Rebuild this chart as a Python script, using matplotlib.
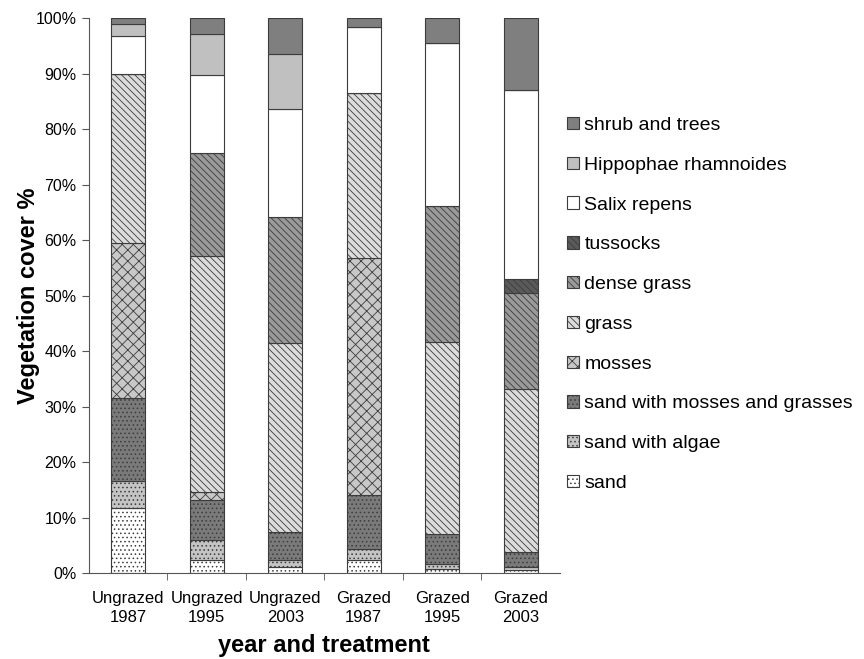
import matplotlib
matplotlib.use("Agg")
import matplotlib.pyplot as plt
import numpy as np

plt.rcParams["font.family"] = ["Liberation Sans", "DejaVu Sans"]
plt.rcParams["hatch.linewidth"] = 0.6

# 类别与数据 (%)
categories = ["Ungrazed\n1987", "Ungrazed\n1995", "Ungrazed\n2003",
              "Grazed\n1987", "Grazed\n1995", "Grazed\n2003"]
layers = ["sand", "sand with algae", "sand with mosses and grasses", "mosses",
          "grass", "dense grass", "tussocks", "Salix repens",
          "Hippophae rhamnoides", "shrub and trees"]

sand = [11.7, 2.3, 1.0, 2.3, 0.7, 0.5]
sand_algae = [4.9, 3.6, 1.3, 2.1, 1.0, 0.5]
sand_mosses = [14.9, 7.3, 5.0, 9.7, 5.3, 2.7]
mosses = [27.9, 1.4, 0.0, 42.6, 0.0, 0.0]
grass = [30.5, 42.5, 34.1, 29.8, 34.7, 29.4]
dense_grass = [0.0, 18.6, 22.7, 0.0, 24.4, 17.4]
tussocks = [0.0, 0.0, 0.0, 0.0, 0.0, 2.4]
salix = [6.9, 14.0, 19.6, 11.9, 29.5, 34.1]
hippophae = [2.1, 7.4, 9.8, 0.0, 0.0, 0.0]
shrub = [1.1, 2.9, 6.5, 1.6, 4.4, 13.0]

series = [sand, sand_algae, sand_mosses, mosses, grass, dense_grass,
          tussocks, salix, hippophae, shrub]

styles = [
    dict(color="white", hatch="...."),
    dict(color="#c4c4c4", hatch="...."),
    dict(color="#7a7a7a", hatch="...."),
    dict(color="#c8c8c8", hatch="xxx"),
    dict(color="#dcdcdc", hatch="\\\\\\\\\\"),
    dict(color="#9a9a9a", hatch="\\\\\\\\\\"),
    dict(color="#5a5a5a", hatch="\\\\\\\\\\"),
    dict(color="white", hatch=None),
    dict(color="#c0c0c0", hatch=None),
    dict(color="#7f7f7f", hatch=None),
]

fig = plt.figure(figsize=(8.64, 6.59), dpi=100)
ax = fig.add_axes([0.103, 0.1305, 0.545, 0.842])

x = np.arange(len(categories))
bottom = np.zeros(len(categories))
handles = []
for name, vals, st in zip(layers, series, styles):
    vals = np.array(vals)
    bars = ax.bar(x, vals, 0.43, bottom=bottom, color=st["color"],
                  hatch=st["hatch"], edgecolor="#3c3c3c", linewidth=0.8,
                  label=name)
    handles.append(bars)
    bottom += vals

ax.set_xlim(-0.5, len(categories) - 0.5)
ax.set_ylim(0, 100)
ax.set_yticks(np.arange(0, 101, 10))
ax.set_yticklabels([f"{v}%" for v in range(0, 101, 10)], fontsize=11.5)
ax.set_xticks(x)
ax.set_xticklabels(categories, fontsize=12, linespacing=1.3)
ax.tick_params(axis="x", length=0, pad=13)
ax.set_xticks(np.arange(0.5, len(categories) - 0.5, 1), minor=True)
ax.tick_params(axis="x", which="minor", length=5, color="#555555")
ax.tick_params(axis="y", length=5, color="#555555", pad=4)

for s in ["top", "right"]:
    ax.spines[s].set_visible(False)
for s in ["left", "bottom"]:
    ax.spines[s].set_color("#555555")

ax.set_ylabel("Vegetation cover %", fontsize=17, fontweight="bold")
ax.yaxis.set_label_coords(-0.105, 0.5)
ax.set_xlabel("year and treatment", fontsize=17, fontweight="bold")
ax.xaxis.set_label_coords(0.499, -0.11)

leg = ax.legend(handles[::-1], layers[::-1], loc="center left",
                bbox_to_anchor=(1.015, 0.484), frameon=False, fontsize=14,
                handlelength=0.6, handleheight=0.6, handletextpad=0.3,
                labelspacing=1.17, borderaxespad=0, borderpad=0)

fig.savefig("out.png", dpi=100)
